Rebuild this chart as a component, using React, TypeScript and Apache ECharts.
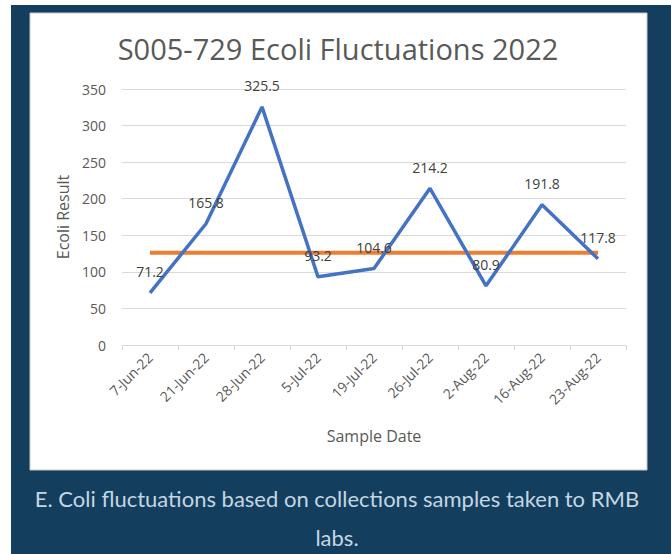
import React, { useEffect, useRef } from "react";
import * as echarts from "echarts";

const categories = ["7-Jun-22", "21-Jun-22", "28-Jun-22", "5-Jul-22", "19-Jul-22", "26-Jul-22", "2-Aug-22", "16-Aug-22", "23-Aug-22"];
const ecoliValues = [71.2, 165.8, 325.5, 93.2, 104.6, 214.2, 80.9, 191.8, 117.8];
const thresholdValues = [126, 126, 126, 126, 126, 126, 126, 126, 126];
const yTicks = { min: 0, max: 350, interval: 50 };
const titleText = "S005-729 Ecoli Fluctuations 2022";
const captionLine1 = "E. Coli fluctuations based on collections samples taken to RMB";
const captionLine2 = "labs.";

export default function App() {
  const ref = useRef<HTMLDivElement>(null);
  useEffect(() => {
    if (!ref.current) return;
    const chart = echarts.init(ref.current, null, { renderer: "svg" });
    const font = "Open Sans";
    chart.setOption({
      animation: false,
      backgroundColor: "#ffffff",
      graphic: [
        { type: "rect", z: -10, shape: { x: 11, y: 5, width: 660, height: 549 }, style: { fill: "#133e5e" } },
        { type: "rect", z: -9, shape: { x: 30, y: 13, width: 617, height: 457 }, style: { fill: "#ffffff", stroke: "#c8c8c8", lineWidth: 1 } },
        { type: "text", x: 337, y: 498, style: { text: captionLine1, fill: "#c5d6e3", font: "22px Lato", align: "center", verticalAlign: "middle" } },
        { type: "text", x: 337, y: 537, style: { text: captionLine2, fill: "#c5d6e3", font: "22px Lato", align: "center", verticalAlign: "middle" } },
      ],
      title: {
        text: titleText,
        left: 333,
        top: 29,
        textAlign: "center",
        textStyle: { fontFamily: font, fontSize: 29, fontWeight: "normal", color: "#595959" },
      },
      grid: { left: 122, right: 45, top: 89, bottom: 209, containLabel: false },
      xAxis: {
        type: "category",
        data: categories,
        boundaryGap: true,
        axisLine: { lineStyle: { color: "#d9d9d9" } },
        axisTick: { show: true, length: 5, lineStyle: { color: "#d9d9d9" } },
        axisLabel: { rotate: 45, margin: 10, color: "#595959", fontFamily: font, fontSize: 14, interval: 0 },
        name: "Sample Date",
        nameLocation: "middle",
        nameGap: 83,
        nameTextStyle: { color: "#595959", fontFamily: font, fontSize: 16 },
      },
      yAxis: {
        type: "value",
        min: yTicks.min,
        max: yTicks.max,
        interval: yTicks.interval,
        axisLine: { show: false },
        axisTick: { show: false },
        splitLine: { lineStyle: { color: "#d9d9d9" } },
        axisLabel: { margin: 16, color: "#595959", fontFamily: font, fontSize: 14 },
        name: "Ecoli Result",
        nameLocation: "middle",
        nameGap: 48,
        nameRotate: 90,
        nameTextStyle: { color: "#595959", fontFamily: font, fontSize: 16 },
      },
      series: [
        {
          type: "line",
          data: thresholdValues,
          symbol: "none",
          lineStyle: { color: "#ed7d31", width: 4 },
          z: 2,
        },
        {
          type: "line",
          data: ecoliValues,
          symbol: "circle",
          symbolSize: 0,
          showSymbol: true,
          itemStyle: { color: "#4472c4" },
          lineStyle: { color: "#4472c4", width: 3.5 },
          z: 3,
          label: {
            show: true,
            position: "top",
            distance: 14,
            color: "#404040",
            fontFamily: font,
            fontSize: 14,
          },
        },
      ],
    });
    return () => chart.dispose();
  }, []);
  return <div ref={ref} style={{ position: "fixed", left: 0, top: 0, width: 671, height: 554 }} />;
}
